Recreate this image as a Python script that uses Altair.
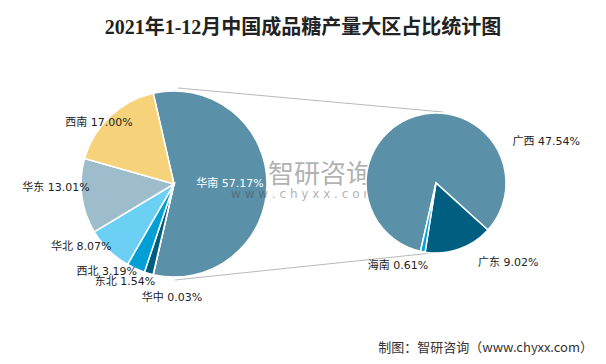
import math
import altair as alt
import pandas as pd

# ---- data ----
TITLE = "2021年1-12月中国成品糖产量大区占比统计图"
FOOTER = "制图：智研咨询（www.chyxx.com）"
MAIN_CATS = ["华南", "华中", "东北", "西北", "华北", "华东", "西南"]
MAIN_VALS = [57.17, 0.03, 1.54, 3.19, 8.07, 13.01, 17.00]
SUB_CATS = ["广西", "广东", "海南"]
SUB_VALS = [47.54, 9.02, 0.61]

ALL_CATS = MAIN_CATS + SUB_CATS
PALETTE = ["#5b91a8", "#1f6e8c", "#005f80", "#00a0d6", "#6ccff4", "#9ebdcc", "#f6d37b",
           "#5b91a8", "#005f80", "#00a2e0"]


def make_table(cats, vals):
    rows, cum = [], 0.0
    for i, (c, v) in enumerate(zip(cats, vals)):
        rows.append({"cat": c, "val": v, "ord": i, "mid": cum + v / 2,
                     "label": f"{c} {v:.2f}%"})
        cum += v
    return pd.DataFrame(rows)


main_df = make_table(MAIN_CATS, MAIN_VALS)
sub_df = make_table(SUB_CATS, SUB_VALS)

color_scale = alt.Scale(domain=ALL_CATS, range=PALETTE)
LABEL_FONT = "DejaVu Sans, Noto Sans CJK SC"

# geometry (chart coordinates)
MCX, MCY, MR = 166, 176, 93
SCX, SCY, SR = 428, 175, 70
M_START = math.radians(347.1)
S_START = math.radians(192.8)


def pie(df, cx, cy, r, start):
    return alt.Chart(df).mark_arc(radius=r, stroke="white", strokeWidth=1.5).encode(
        theta=alt.Theta("val:Q", stack=True,
                        scale=alt.Scale(range=[start, start + 2 * math.pi])),
        color=alt.Color("cat:N", scale=color_scale, legend=None),
        order=alt.Order("ord:Q"),
        x=alt.value(cx), y=alt.value(cy),
    )


def labels(df, cx, cy, r, nudges, color_map=None):
    out = []
    for cat, (align, dx, dy) in nudges.items():
        col = (color_map or {}).get(cat, "#222222")
        out.append(
            alt.Chart(df).transform_filter(alt.datum.cat == cat).mark_text(
                align=align, baseline="middle", dx=dx, dy=dy,
                font=LABEL_FONT, fontSize=11, color=col,
            ).encode(
                theta=alt.Theta("mid:Q", stack=False),
                text="label:N",
                x=alt.value(cx), y=alt.value(cy), radius=alt.value(r),
            )
        )
    return out


MAIN_NUDGE = {
    "华中": ("left", -11, 21),
    "东北": ("right", 7, 7),
    "西北": ("right", 2, 1),
    "华北": ("right", 4, -5),
    "华东": ("right", 10, -8),
    "西南": ("right", 24, 8),
}
SUB_NUDGE = {
    "广西": ("left", 100, 33),
    "广东": ("left", 16, 6),
    "海南": ("right", 7, 6),
}

one = pd.DataFrame({"k": [0]})

top_line = alt.Chart(one).mark_rule(color="#b8b8b8", strokeWidth=1).encode(
    x=alt.value(MCX + 4), y=alt.value(MCY - MR - 3),
    x2=alt.value(SCX + 7), y2=alt.value(SCY - SR - 1))
bot_line = alt.Chart(one).mark_rule(color="#b8b8b8", strokeWidth=1).encode(
    x=alt.value(MCX + 1), y=alt.value(MCY + MR + 3),
    x2=alt.value(SCX - 4), y2=alt.value(SCY + SR))

wm1 = alt.Chart(pd.DataFrame({"t": ["智研咨询"]})).mark_text(
    font="Noto Sans CJK SC", fontSize=26, color="#404040", opacity=0.4,
    align="center", baseline="middle").encode(
    text="t:N", x=alt.value(312), y=alt.value(167))
wm2 = alt.Chart(pd.DataFrame({"t": ["w w w . c h y x x . c o m"]})).mark_text(
    font="DejaVu Sans", fontSize=12, color="#404040", opacity=0.4,
    align="center", baseline="middle").encode(
    text="t:N", x=alt.value(295), y=alt.value(186))

main_group = alt.layer(
    pie(main_df, MCX, MCY, MR, M_START),
    wm1, wm2,
    *labels(main_df, MCX, MCY, 56, {"华南": ("center", 0, 0)}, {"华南": "white"}),
    *labels(main_df, MCX, MCY, 95, MAIN_NUDGE),
)
sub_group = alt.layer(
    pie(sub_df, SCX, SCY, SR, S_START),
    *labels(sub_df, SCX, SCY, 78, SUB_NUDGE),
)

title = alt.Chart(pd.DataFrame({"t": [TITLE]})).mark_text(
    font="Liberation Serif, Noto Sans CJK SC", fontSize=20, fontWeight="bold",
    color="#222222", align="center", baseline="middle").encode(
    text="t:N", x=alt.value(295), y=alt.value(20))
footer = alt.Chart(pd.DataFrame({"t": [FOOTER]})).mark_text(
    font="Noto Sans CJK SC", fontSize=13, color="#333333",
    align="right", baseline="middle").encode(
    text="t:N", x=alt.value(585), y=alt.value(340))

chart = alt.layer(
    top_line, bot_line, main_group, sub_group, title, footer
).resolve_scale(theta="independent").properties(
    width=590, height=348, padding=0,
    autosize=alt.AutoSizeParams(type="none"),
).configure_view(stroke=None)

chart.save("out.html", embed_options={"renderer": "svg", "actions": False})
